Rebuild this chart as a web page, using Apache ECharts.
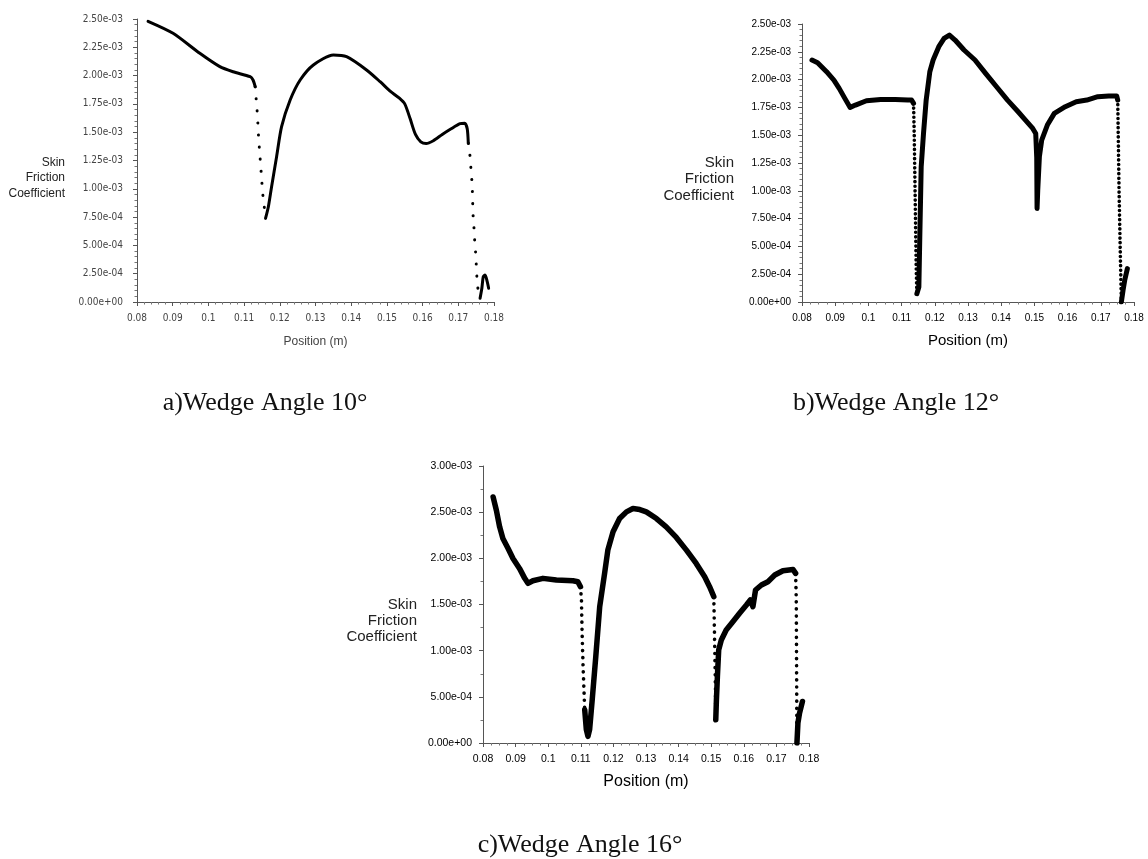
<!DOCTYPE html>
<html>
<head>
<meta charset="utf-8">
<script src="https://cdn.jsdelivr.net/npm/echarts@6/dist/echarts.min.js"></script>
<style>
  html, body { margin: 0; padding: 0; background: #fff; }
  #chart { width: 1148px; height: 859px; }
</style>
</head>
<body>
<div id="chart"></div>
<script>
// skin friction coefficient, values in units of 1e-3, against position (m)

// a) wedge angle 10
const posA = [0.0831, 0.0901, 0.0976, 0.1032, 0.1069, 0.1117, 0.1125, 0.1131, 0.1137, 0.1141, 0.1147, 0.1152, 0.1158, 0.1160,
  0.1168, 0.1177, 0.1191, 0.1205, 0.1229, 0.1257, 0.1294, 0.1350, 0.1387, 0.1443, 0.1481, 0.1510, 0.1535, 0.1550, 0.1565,
  0.1580, 0.1595, 0.1610, 0.1630, 0.1655, 0.1680, 0.1705, 0.1718, 0.1725, 0.1728, 0.1733, 0.1736, 0.1739, 0.1741, 0.1744,
  0.1746, 0.1749, 0.1752, 0.1753, 0.1757, 0.1761, 0.1766, 0.1770, 0.1775, 0.1781, 0.1785];
const cfA = [2.48, 2.374, 2.197, 2.079, 2.034, 1.990, 1.961, 1.902, 1.667, 1.431, 1.181, 0.960, 0.798, 0.739,
  0.842, 1.019, 1.284, 1.549, 1.784, 1.961, 2.094, 2.182, 2.167, 2.050, 1.946, 1.860, 1.800, 1.750, 1.620,
  1.480, 1.415, 1.400, 1.425, 1.480, 1.530, 1.575, 1.580, 1.530, 1.402, 1.284, 1.151, 1.034, 0.783, 0.651,
  0.533, 0.415, 0.224, 0.150, 0.091, 0.033, 0.121, 0.224, 0.239, 0.180, 0.121];
const sparseA = [[0.1131, 0.1160], [0.1728, 0.1761]];

// b) wedge angle 12
const posB = [0.0830, 0.0847, 0.0874, 0.0896, 0.0912, 0.0929, 0.0945, 0.0961, 0.0994, 0.1037, 0.1081, 0.1119, 0.1130, 0.1136,
  0.1138, 0.1141, 0.1144, 0.1146, 0.1152, 0.1155, 0.1159, 0.1166, 0.1174, 0.1185, 0.1195, 0.1212, 0.1228, 0.1244, 0.1261,
  0.1288, 0.1321, 0.1353, 0.1386, 0.1419, 0.1451, 0.1473, 0.1495, 0.1504, 0.1507, 0.1508, 0.1510, 0.1515, 0.1522, 0.1539,
  0.1560, 0.1593, 0.1626, 0.1658, 0.1691, 0.1724, 0.1748, 0.1751, 0.1755, 0.1759, 0.1762, 0.1767, 0.1772, 0.1780];
const cfB = [2.176, 2.152, 2.071, 1.996, 1.921, 1.831, 1.750, 1.771, 1.810, 1.822, 1.822, 1.816, 1.816, 1.786,
  1.516, 0.915, 0.315, 0.075, 0.135, 0.615, 1.215, 1.516, 1.816, 2.071, 2.176, 2.296, 2.371, 2.401, 2.356,
  2.266, 2.176, 2.056, 1.936, 1.816, 1.711, 1.636, 1.561, 1.516, 1.300, 0.840, 1.000, 1.306, 1.456, 1.591,
  1.696, 1.756, 1.801, 1.816, 1.846, 1.852, 1.852, 1.816, 1.000, 0.400, 0.000, 0.105, 0.195, 0.300];
const sparseB = [[0.1136, 0.1146], [0.1751, 0.1762]];

// c) wedge angle 16
const posC = [0.0831, 0.0841, 0.0851, 0.0861, 0.0877, 0.0892, 0.0912, 0.0928, 0.0938, 0.0953, 0.0984, 0.1025, 0.1076, 0.1091,
  0.1099, 0.1102, 0.1104, 0.1107, 0.1112, 0.1117, 0.1122, 0.1127, 0.1135, 0.1146, 0.1158, 0.1173, 0.1183, 0.1199, 0.1219,
  0.1240, 0.1260, 0.1281, 0.1301, 0.1332, 0.1362, 0.1393, 0.1424, 0.1454, 0.1480, 0.1495, 0.1508, 0.1511, 0.1513, 0.1514,
  0.1516, 0.1519, 0.1523, 0.1531, 0.1546, 0.1567, 0.1587, 0.1608, 0.1620, 0.1628, 0.1636, 0.1654, 0.1674, 0.1695, 0.1720,
  0.1751, 0.1759, 0.1761, 0.1763, 0.1766, 0.1771, 0.1780];
const cfC = [2.665, 2.521, 2.341, 2.215, 2.107, 1.999, 1.891, 1.783, 1.729, 1.757, 1.783, 1.765, 1.757, 1.747,
  1.693, 1.549, 1.188, 0.828, 0.360, 0.144, 0.072, 0.144, 0.468, 0.936, 1.477, 1.837, 2.089, 2.287, 2.431,
  2.503, 2.539, 2.528, 2.503, 2.431, 2.341, 2.226, 2.089, 1.945, 1.801, 1.693, 1.585, 1.008, 0.600, 0.252,
  0.468, 0.720, 1.008, 1.116, 1.224, 1.315, 1.405, 1.495, 1.549, 1.477, 1.657, 1.711, 1.747, 1.819, 1.866,
  1.880, 1.837, 1.549, 0.000, 0.216, 0.324, 0.450];
const sparseC = [[0.1099, 0.1112], [0.1508, 0.1514], [0.1759, 0.1763]];

const captions = ['a)Wedge Angle 10°', 'b)Wedge Angle 12°', 'c)Wedge Angle 16°'];

const SANS = "'Liberation Sans', Arial, sans-serif";
const NARROW = "'Liberation Sans Narrow', 'DejaVu Sans Condensed', sans-serif";
const SERIF = "'Liberation Serif', 'Times New Roman', serif";

// split a profile into densely sampled (solid) and sparsely sampled (dotted) stretches
function splitCurve(pos, cf, sparse) {
  const solid = [], dotted = [];
  const isSparse = (a, b) => sparse.some(([lo, hi]) => a >= lo && b <= hi);
  for (let i = 0; i < pos.length - 1; i++) {
    const tgt = isSparse(pos[i], pos[i + 1]) ? dotted : solid;
    const last = tgt[tgt.length - 1];
    if (!last || last[0] !== pos[i]) {
      if (last) tgt.push([pos[i], null]);
      tgt.push([pos[i], cf[i]]);
    }
    tgt.push([pos[i + 1], cf[i + 1]]);
  }
  return { solid, dotted };
}

function fmtExp(v) {
  const parts = (v * 1e-3).toExponential(2).split('e');
  const e = parseInt(parts[1], 10);
  return parts[0] + 'e' + (e < 0 ? '-' : '+') + String(Math.abs(e)).padStart(2, '0');
}

function xAxisFor(idx, s) {
  return {
    type: 'value', gridIndex: idx, min: 0.08, max: 0.18, interval: 0.01,
    name: 'Position (m)', nameLocation: 'middle', nameGap: s.nameGap,
    nameTextStyle: { fontFamily: SANS, fontSize: s.nameSize, color: s.color },
    axisLine: { onZero: false, lineStyle: { color: '#555', width: 1 } },
    axisTick: { length: 4, lineStyle: { color: '#555' } },
    minorTick: { show: true, splitNumber: s.xMinor, length: 2.5, lineStyle: { color: '#777' } },
    splitLine: { show: false },
    axisLabel: {
      margin: s.xMargin, fontFamily: s.labelFont, fontSize: s.labelSize, color: s.color,
      formatter: v => String(+v.toFixed(2))
    }
  };
}

function yAxisFor(idx, s) {
  return {
    type: 'value', gridIndex: idx, min: 0, max: s.yMax, interval: s.yStep,
    axisLine: { show: true, lineStyle: { color: '#555', width: 1 } },
    axisTick: { show: true, length: 4, lineStyle: { color: '#555' } },
    minorTick: { show: true, splitNumber: s.yMinor, length: 2.5, lineStyle: { color: '#777' } },
    splitLine: { show: false },
    axisLabel: {
      margin: s.yMargin, fontFamily: s.labelFont, fontSize: s.labelSize, color: s.color,
      formatter: fmtExp
    }
  };
}

const panels = [
  { pos: posA, cf: cfA, sparse: sparseA, smooth: 0.25,
    grid: { left: 137, top: 19, width: 357, height: 283 },
    yMax: 2.5, yStep: 0.25, xMinor: 5, yMinor: 5, labelFont: NARROW, labelSize: 10, color: '#444',
    xMargin: 11, yMargin: 14, nameGap: 34, nameSize: 12, lineW: 3, dotW: 3, dotGap: 12,
    yLabel: { x: 65, y: 178, size: 12, lh: 15.5 }, caption: { x: 265, y: 403 } },
  { pos: posB, cf: cfB, sparse: sparseB, smooth: false,
    grid: { left: 802, top: 24, width: 332, height: 278 },
    yMax: 2.5, yStep: 0.25, xMinor: 4, yMinor: 5, labelFont: SANS, labelSize: 10, color: '#000',
    xMargin: 11, yMargin: 11, nameGap: 31, nameSize: 15, lineW: 5, dotW: 3.6, dotGap: 4.5,
    yLabel: { x: 734, y: 179, size: 15, lh: 16.5 }, caption: { x: 896, y: 403 } },
  { pos: posC, cf: cfC, sparse: sparseC, smooth: false,
    grid: { left: 483, top: 466, width: 326, height: 277 },
    yMax: 3, yStep: 0.5, xMinor: 4, yMinor: 2, labelFont: SANS, labelSize: 10.5, color: '#000',
    xMargin: 11, yMargin: 11, nameGap: 31, nameSize: 16, lineW: 5.5, dotW: 3.6, dotGap: 7,
    yLabel: { x: 417, y: 621, size: 15, lh: 16 }, caption: { x: 580, y: 845 } }
];

const option = {
  animation: false,
  backgroundColor: '#fff',
  grid: panels.map(p => Object.assign({ outerBoundsMode: 'none', containLabel: false }, p.grid)),
  xAxis: panels.map((p, i) => xAxisFor(i, p)),
  yAxis: panels.map((p, i) => yAxisFor(i, p)),
  series: [],
  graphic: []
};

panels.forEach((p, i) => {
  const parts = splitCurve(p.pos, p.cf, p.sparse);
  option.series.push({
    type: 'line', xAxisIndex: i, yAxisIndex: i, data: parts.solid,
    showSymbol: false, silent: true, connectNulls: false, smooth: p.smooth,
    lineStyle: { color: '#000', width: p.lineW, cap: 'round', join: 'round' }
  });
  option.series.push({
    type: 'line', xAxisIndex: i, yAxisIndex: i, data: parts.dotted,
    showSymbol: false, silent: true, connectNulls: false,
    lineStyle: { color: '#000', width: p.dotW, cap: 'round', type: [0.1, p.dotGap] }
  });
  option.graphic.push({
    type: 'text', x: p.yLabel.x, y: p.yLabel.y, silent: true,
    style: {
      text: 'Skin\nFriction\nCoefficient', align: 'right', verticalAlign: 'middle',
      fontFamily: SANS, fontSize: p.yLabel.size, lineHeight: p.yLabel.lh, fill: '#222'
    }
  });
  option.graphic.push({
    type: 'text', x: p.caption.x, y: p.caption.y, silent: true,
    style: {
      text: captions[i], align: 'center', verticalAlign: 'middle',
      fontFamily: SERIF, fontSize: 26, fill: '#111'
    }
  });
});

const chart = echarts.init(document.getElementById('chart'), null, { renderer: 'canvas' });
chart.setOption(option);
</script>
</body>
</html>
